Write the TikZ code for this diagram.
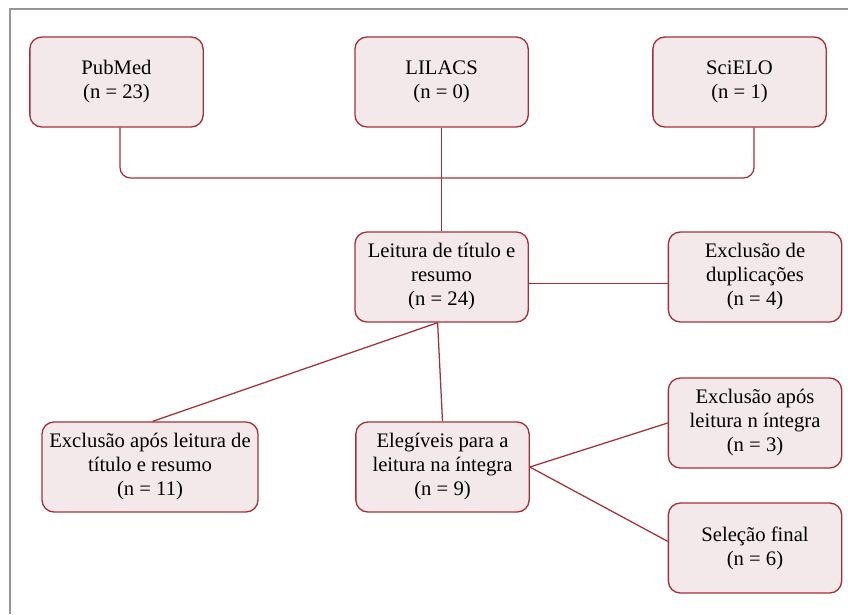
\documentclass[tikz,border=0pt]{standalone}
\usepackage{fontspec}
\setmainfont{Liberation Serif}
\usepackage{tikz}

\definecolor{boxline}{RGB}{165,48,58}
\definecolor{boxfill}{RGB}{243,233,235}
\definecolor{frameline}{RGB}{150,150,150}

\tikzset{
  stage/.style={draw=boxline, fill=boxfill, line width=1pt, rounded corners=9pt,
    minimum width=130pt, minimum height=67.5pt, align=center, inner sep=2pt,
    font=\fontsize{15.5}{18}\selectfont},
  link/.style={draw=boxline, line width=0.95pt}
}

\begin{document}
\begin{tikzpicture}[x=0.75pt,y=0.75pt,yscale=-1]
\useasboundingbox (0,0) rectangle (848,614);

%Shape: Frame
\draw [frameline, line width=0.9pt] (10,614) -- (10,9) -- (848,9);

% Sources
\node [stage] (pubmed) at (116.5,82) {PubMed\\(n = 23)};
\node [stage] (lilacs) at (441.6,82) {LILACS\\(n = 0)};
\node [stage] (scielo) at (739.5,82) {SciELO\\(n = 1)};

% Screening
\node [stage] (leitura) at (441.6,277) {Leitura de título e\\resumo\\(n = 24)};
\node [stage] (duplic) at (755,277) {Exclusão de\\duplicações\\(n = 4)};

% Eligibility
\node [stage, minimum width=162pt] (exctitulo) at (150,467) {Exclusão após leitura de\\título e resumo\\(n = 11)};
\node [stage] (elegiveis) at (442.5,467) {Elegíveis para a\\leitura na íntegra\\(n = 9)};
\node [stage] (excintegra) at (755,423) {Exclusão após\\leitura n íntegra\\(n = 3)};
\node [stage] (selecao) at (755,548) {Seleção final\\(n = 6)};

%Straight Lines
\coordinate (bus) at (441.6,178);
\draw [link, rounded corners=8pt] ([xshift=2.6pt]pubmed.south) |- (bus) -| ([xshift=10.9pt]scielo.south);
\draw [link] (lilacs.south) -- (leitura.north);
\draw [link] ([yshift=5pt]leitura.east) -- ([yshift=5pt]duplic.west);
\draw [link] ([xshift=-3pt]leitura.south) -- ([xshift=2pt]exctitulo.north);
\draw [link] ([xshift=-3pt]leitura.south) -- (elegiveis.north);
\draw [link] (elegiveis.east) -- (excintegra.west);
\draw [link] (elegiveis.east) -- ([yshift=-5pt]selecao.west);

\end{tikzpicture}
\end{document}
